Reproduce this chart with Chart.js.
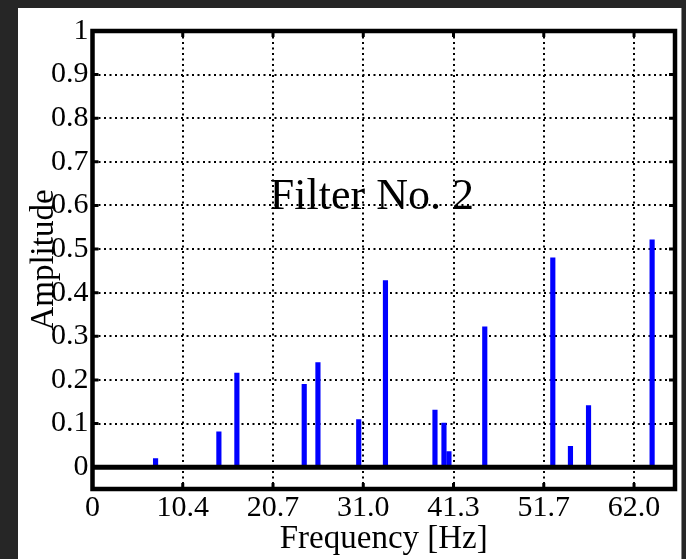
<!DOCTYPE html>
<html>
<head>
<meta charset="utf-8">
<script src="https://cdn.jsdelivr.net/npm/chart.js@4.4.1/dist/chart.umd.min.js"></script>
<style>
  html, body { margin: 0; padding: 0; background: #262626; }
  #panel { position: absolute; left: 18px; top: 8px; width: 663px; height: 551px; background: #fff; border-right: 1px solid #8a8a8a; }
  #wrap { position: absolute; left: 0; top: 0; width: 686px; height: 559px; }
</style>
</head>
<body>
<div id="panel"></div>
<div id="wrap"><canvas id="filterChart"></canvas></div>
<script>
// Spectrum of filter 2
const freqs = [7.22, 14.47, 16.53, 24.24, 25.81, 30.48, 33.54, 39.21, 40.24, 40.81, 44.91, 52.70, 54.72, 56.79, 64.07];
const amps = [0.020, 0.081, 0.216, 0.190, 0.240, 0.109, 0.428, 0.131, 0.101, 0.036, 0.322, 0.480, 0.048, 0.141, 0.521];

const xTicks = [0, 10.333, 20.667, 31.0, 41.333, 51.667, 62.0];
const xTickLabels = ['0', '10.4', '20.7', '31.0', '41.3', '51.7', '62.0'];
const yTicks = [0, 0.1, 0.2, 0.3, 0.4, 0.5, 0.6, 0.7, 0.8, 0.9, 1];
const yTickLabels = ['0', '0.1', '0.2', '0.3', '0.4', '0.5', '0.6', '0.7', '0.8', '0.9', '1'];

const label = 'Filter No. 2';
const labelAt = [20.3, 0.593];

const serif = '"Liberation Serif", "DejaVu Serif", serif';

// box, zero line, inner tick marks and the text label
const framePlugin = {
    id: 'frame',
    afterDatasetsDraw(chart) {
        const { ctx, chartArea: a, scales } = chart;
        const x = scales.x, y = scales.y;
        ctx.save();
        ctx.strokeStyle = '#000';

        // zero line
        const y0 = y.getPixelForValue(0);
        ctx.lineWidth = 5;
        ctx.beginPath();
        ctx.moveTo(a.left, y0);
        ctx.lineTo(a.right, y0);
        ctx.stroke();

        // tick marks inside the box
        ctx.lineWidth = 3;
        ctx.beginPath();
        xTicks.forEach(v => {
            const px = x.getPixelForValue(v);
            ctx.moveTo(px, a.top); ctx.lineTo(px, a.top + 6);
            ctx.moveTo(px, a.bottom); ctx.lineTo(px, a.bottom - 6);
        });
        yTicks.forEach(v => {
            const py = y.getPixelForValue(v);
            ctx.moveTo(a.left, py); ctx.lineTo(a.left + 6, py);
            ctx.moveTo(a.right, py); ctx.lineTo(a.right - 6, py);
        });
        ctx.stroke();

        // box
        ctx.lineWidth = 4.5;
        ctx.strokeRect(a.left, a.top, a.right - a.left, a.bottom - a.top);

        // text
        ctx.fillStyle = '#000';
        ctx.font = '44px ' + serif;
        ctx.textAlign = 'left';
        ctx.textBaseline = 'alphabetic';
        ctx.fillText(label, x.getPixelForValue(labelAt[0]), y.getPixelForValue(labelAt[1]));
        ctx.restore();
    }
};

const ctx = document.getElementById('filterChart').getContext('2d');

new Chart(ctx, {
    type: 'bar',
    data: {
        datasets: [{
            data: freqs.map((f, i) => ({ x: f, y: amps[i] })),
            backgroundColor: '#0000ff',
            borderWidth: 0,
            barThickness: 4.5
        }]
    },
    options: {
        responsive: true,
        maintainAspectRatio: false,
        animation: false,
        devicePixelRatio: 1,
        layout: { padding: { left: 20, top: 31, right: 11, bottom: 0 } },
        plugins: {
            legend: { display: false },
            tooltip: { enabled: false }
        },
        scales: {
            x: {
                type: 'linear',
                min: 0,
                max: 66.69,
                offset: false,
                afterBuildTicks: s => { s.ticks = xTicks.map(v => ({ value: v })); },
                afterFit: s => { s.height = 70; },
                grid: { color: '#000', lineWidth: 2, drawTicks: false, offset: false },
                border: { display: false, dash: [2, 3.5] },
                ticks: {
                    autoSkip: false,
                    maxRotation: 0,
                    padding: 1,
                    color: '#000',
                    font: { family: serif, size: 30 },
                    callback: (v, i) => xTickLabels[i]
                },
                title: {
                    display: true,
                    text: 'Frequency [Hz]',
                    color: '#000',
                    font: { family: serif, size: 33 },
                    padding: { top: 0, bottom: 0 }
                }
            },
            y: {
                min: -0.05,
                max: 1,
                afterBuildTicks: s => { s.ticks = yTicks.map(v => ({ value: v })); },
                afterFit: s => { s.width = 72.5; },
                grid: { color: '#000', lineWidth: 2, drawTicks: false },
                border: { display: false, dash: [2, 3.5] },
                ticks: {
                    padding: 4,
                    color: '#000',
                    font: { family: serif, size: 30 },
                    callback: (v, i) => yTickLabels[i]
                },
                title: {
                    display: true,
                    text: 'Amplitude',
                    color: '#000',
                    font: { family: serif, size: 33 },
                    padding: { top: 5, bottom: 0 }
                }
            }
        }
    },
    plugins: [framePlugin]
});
</script>
</body>
</html>
